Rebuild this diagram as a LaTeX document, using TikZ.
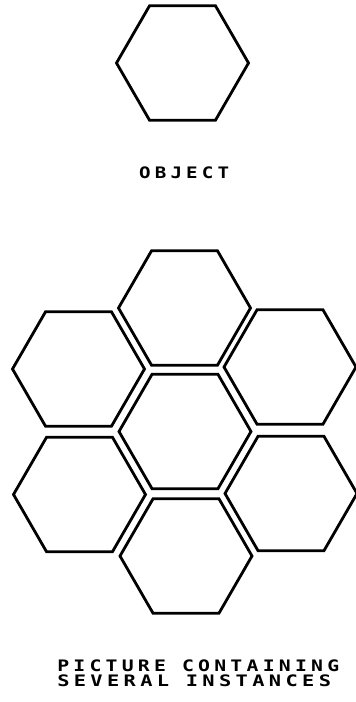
\documentclass[tikz,border=0pt]{standalone}
\usepackage{fontspec}
\usetikzlibrary{shapes.geometric}
\newfontfamily\plotfont[LetterSpace=21.5]{DejaVu Sans Mono}
\begin{document}
\begin{tikzpicture}[x=1pt,y=-1pt,
  hex/.style={regular polygon, regular polygon sides=6, minimum size=132pt,
    inner sep=0pt, draw=black, line width=2.8pt},
  lbl/.style={anchor=base west, inner sep=0pt, xscale=1.25, transform shape,
    font=\plotfont\bfseries\fontsize{15.8}{16}\selectfont}]
\fill[white] (0,0) rectangle (356,702);
\useasboundingbox (0,0) rectangle (356,702);
\node[hex] (obj) at (182.5,63) {};
\node[lbl, xscale=0.97] (objlbl) at (139,178) {OBJECT};
\node[hex] (c)  at (185,431.5) {};
\node[hex] (t)  at (184.5,308) {};
\node[hex] (b)  at (186,556) {};
\node[hex] (ul) at (78.5,369) {};
\node[hex] (ll) at (79.5,494.5) {};
\node[hex] (ur) at (290,367) {};
\node[hex] (lr) at (291,493.5) {};
\node[lbl] (pic1) at (57,671.7) {PICTURE CONTAINING};
\node[lbl, xscale=1.03] (pic2) at (57,686.7) {SEVERAL INSTANCES};
\end{tikzpicture}
\end{document}
